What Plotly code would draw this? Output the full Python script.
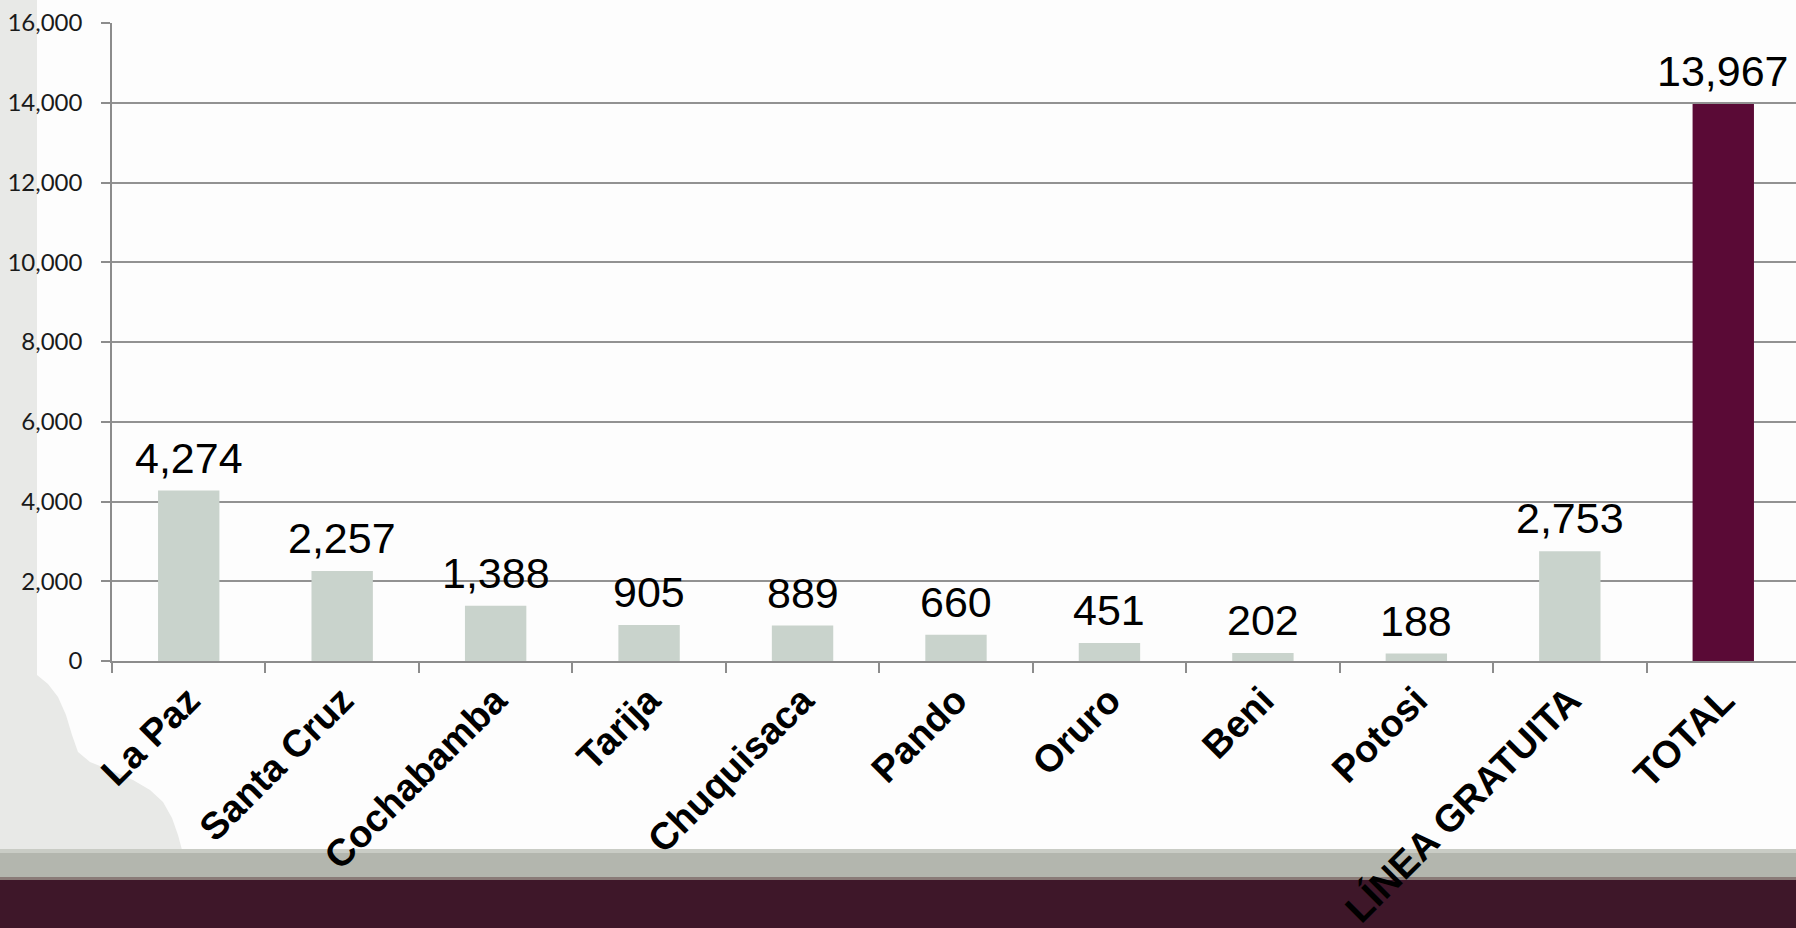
import plotly.graph_objects as go

categories = ["La Paz", "Santa Cruz", "Cochabamba", "Tarija", "Chuquisaca", "Pando",
              "Oruro", "Beni", "Potosi", "LÍNEA GRATUITA", "TOTAL"]
values = [4274, 2257, 1388, 905, 889, 660, 451, 202, 188, 2753, 13967]
bar_colors = ["#c9d3cc"] * 10 + ["#5a0a36"]

W, H = 1796, 928
L, R, T, B = 112, 0, 23, 267
pw, ph = W - L - R, H - T - B

def px(x):
    return (x - L) / pw

def py(y):
    return (H - B - y) / ph

fig = go.Figure()
fig.add_trace(go.Bar(
    x=categories, y=values, marker_color=bar_colors, width=0.4,
    marker_line_width=0, hoverinfo="skip",
))

for c, v in zip(categories, values):
    fig.add_annotation(x=c, y=v, text=f"{v:,}", showarrow=False, yanchor="bottom",
                       yshift=7, font=dict(family="Liberation Sans, Arial", size=43, color="#000000"))

# slide decorations
curve = [(0, 0), (37, 0), (37, 675), (48, 684), (58, 697), (66, 715), (72, 735), (78, 752),
         (90, 762), (110, 770), (133, 780), (150, 790), (163, 802), (172, 818), (178, 835),
         (182, 850), (0, 850)]
path = "M " + " L ".join(f"{px(a)},{py(b)}" for a, b in curve) + " Z"
shapes = [
    dict(type="path", xref="paper", yref="paper", path=path, fillcolor="#e8e9e7",
         line_width=0, layer="below"),
    dict(type="rect", xref="paper", yref="paper", x0=px(0), x1=px(W), y0=py(850), y1=py(877),
         fillcolor="#b3b6ae", line_width=0, layer="below"),
    dict(type="rect", xref="paper", yref="paper", x0=px(0), x1=px(W), y0=py(849), y1=py(853),
         fillcolor="#c9ccc5", line_width=0, layer="below"),
    dict(type="rect", xref="paper", yref="paper", x0=px(0), x1=px(W), y0=py(877), y1=py(881),
         fillcolor="#8a7b78", line_width=0, layer="below"),
    dict(type="rect", xref="paper", yref="paper", x0=px(0), x1=px(W), y0=py(880), y1=py(H),
         fillcolor="#3e1729", line_width=0, layer="below"),
]

fig.update_layout(
    width=W, height=H,
    margin=dict(l=L, r=R, t=T, b=B, pad=0, autoexpand=False),
    paper_bgcolor="#fdfdfd", plot_bgcolor="rgba(0,0,0,0)",
    showlegend=False, shapes=shapes,
    bargap=0.6,
)
fig.update_xaxes(
    type="category", range=[-0.5, 10.5 - 4 / 153.5], automargin=False,
    showline=True, linecolor="#8c8c8c", linewidth=1.5,
    ticks="outside", ticklen=10, tickcolor="#8c8c8c", tickwidth=1.5, tickson="boundaries",
    tickangle=-45, showgrid=False,
    tickfont=dict(family="Liberation Sans, Arial", size=38, color="#000000", weight="bold"),
)
fig.update_yaxes(
    range=[0, 16000], dtick=2000, tickformat=",", automargin=False,
    showline=True, linecolor="#8c8c8c", linewidth=1.5,
    ticks="outside", ticklen=9, tickcolor="#8c8c8c", tickwidth=1.5,
    showgrid=True, gridcolor="#929292", gridwidth=1.5, zeroline=False,
    ticklabelstandoff=14,
    tickfont=dict(family="Lato, Open Sans", size=24, color="#1a1a1a"),
)

fig.write_html("out.html")
